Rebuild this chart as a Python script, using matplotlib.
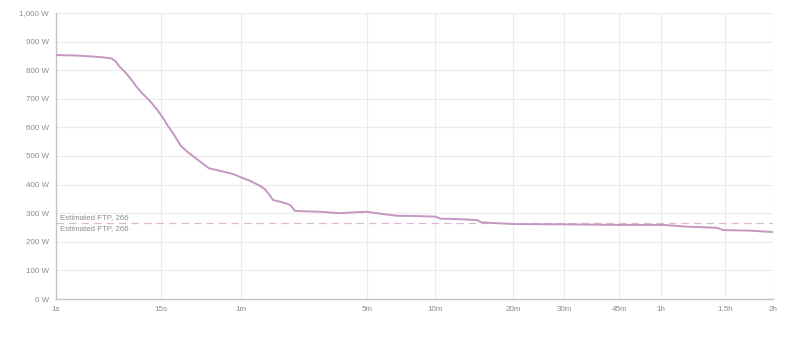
import matplotlib
matplotlib.use("Agg")
import matplotlib.pyplot as plt
from matplotlib.ticker import FixedLocator, FuncFormatter
import numpy as np

# Duration (seconds) and best power (W)
durations = [1, 2, 3, 4, 5, 5.5, 6, 7, 8, 9, 10, 12, 14, 15, 16, 17, 19, 22, 25, 28,
             32, 36, 45, 53, 62, 68, 75, 80, 85, 90, 95, 105, 116, 120, 127, 174, 221,
             260, 299, 357, 411, 500, 600, 625, 629, 757, 880, 918, 1000, 1220, 1800,
             2716, 3650, 4249, 5135, 5356, 6291, 7200]
power = [853, 851, 848, 845, 841, 832, 815, 792, 767, 742, 722, 692, 660, 643, 626, 608,
         579, 535, 513, 496, 475, 457, 446, 437, 422, 414, 402, 394, 383, 365, 346, 340,
         332, 328, 308, 305, 300, 303, 305, 297, 291, 290, 288, 283, 281, 279, 276, 268,
         266, 262, 261, 259, 259, 253, 249, 241, 239, 234]

ftp = 266
ftp_label = "Estimated FTP, 266"

x_tick_values = [1, 15, 60, 300, 600, 1200, 1800, 2700, 3600, 5400, 7200]
x_tick_labels = ["1s", "15s", "1m", "5m", "10m", "20m", "30m", "45m", "1h", "1.5h", "2h"]
y_tick_values = [0, 100, 200, 300, 400, 500, 600, 700, 800, 900, 1000]

plt.rcParams['font.family'] = ['Liberation Sans', 'DejaVu Sans']

fig = plt.figure(figsize=(8.0, 3.51), dpi=100)
ax = fig.add_axes([56/800, 52/351, (773-56)/800, (299-13)/351])

ax.set_xscale('function', functions=(lambda t: np.power(np.clip(t, 1e-9, None), 0.2),
                                     lambda v: np.power(np.clip(v, 0, None), 5.0)))
ax.set_xlim(1, 7200)
ax.set_ylim(0, 1000)

line_color = '#c597c0'
ax.plot(durations, power, color=line_color, lw=1.4, solid_joinstyle='round', zorder=3)
ax.axhline(ftp, color='#dcb8d6', lw=0.9, dashes=(6, 4), zorder=2)

txt_color = '#8c8c8c'
ax.annotate(ftp_label, xy=(1, ftp), xytext=(3, 1), textcoords='offset points',
            ha='left', va='bottom', fontsize=5.7, color=txt_color)
ax.annotate(ftp_label, xy=(1, ftp), xytext=(3, -1.2), textcoords='offset points',
            ha='left', va='top', fontsize=5.7, color=txt_color)

ax.xaxis.set_major_locator(FixedLocator(x_tick_values))
ax.set_xticklabels(x_tick_labels)
ax.xaxis.set_minor_locator(FixedLocator([1, 7200]))
ax.yaxis.set_major_locator(FixedLocator(y_tick_values))
ax.yaxis.set_major_formatter(FuncFormatter(lambda v, p: f"{int(v):,} W"))
ax.yaxis.set_minor_locator(FixedLocator([0, 1000]))

ax.tick_params(axis='both', which='major', length=0, labelsize=5.8, labelcolor='#8c8c8c')
ax.tick_params(axis='x', which='major', pad=5)
ax.tick_params(axis='y', which='major', pad=5)
ax.tick_params(axis='both', which='minor', length=3.5, width=0.8, color='#bdbdbd')

ax.grid(True, which='major', color='#ececec', lw=0.8, zorder=0)
for y in [200, 800]:
    ax.axhline(y, color='#dcdcdc', lw=0.8, zorder=0)

for s in ['top', 'right']:
    ax.spines[s].set_visible(False)
for s in ['left', 'bottom']:
    ax.spines[s].set_color('#c4c4c4')
    ax.spines[s].set_linewidth(1.0)

fig.savefig('out.png', dpi=100)
